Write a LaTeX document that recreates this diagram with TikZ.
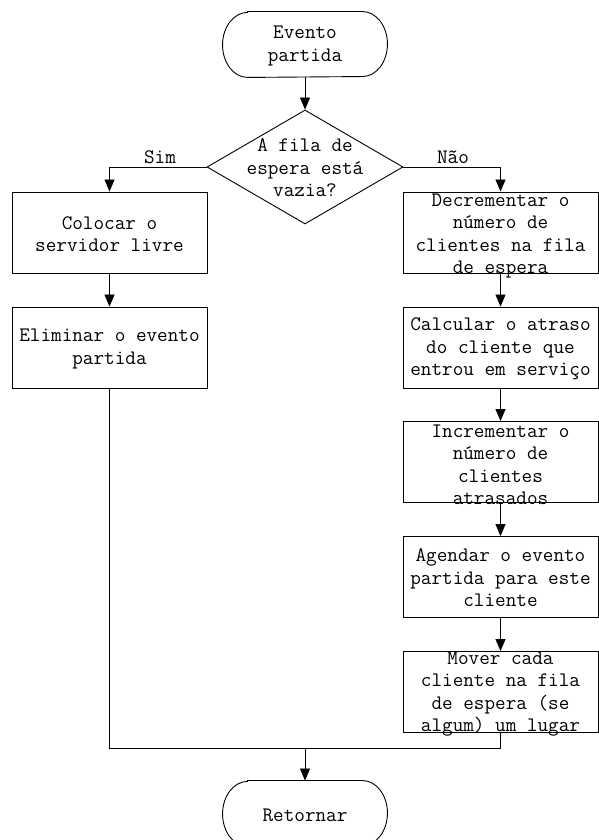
\documentclass[tikz,border=0pt]{standalone}
\usepackage{fontspec}
\usetikzlibrary{arrows.meta,shapes.geometric}
\begin{document}
\begin{tikzpicture}[x=1pt,y=1pt,
  line width=0.9pt,
  box/.style={draw, minimum width=195pt, minimum height=81pt, inner sep=0pt},
  txt/.style={font=\ttfamily\fontsize{20.6}{22.5}\selectfont, align=center, inner sep=0pt},
  dec/.style={draw, diamond, minimum width=196pt, minimum height=114pt, inner sep=0pt},
  term/.style={minimum width=164pt, minimum height=65pt, inner sep=0pt},
  arr/.style={-{Triangle[length=12pt,width=10pt]}},
]
\useasboundingbox (0,0) rectangle (599,840);

% start terminator
\node[term] (start) at (305,795.5) {};
\draw ([xshift=25pt]start.north west) -- ([xshift=-25pt]start.north east)
  arc[start angle=90,end angle=-90,x radius=25pt,y radius=32.5pt]
  -- ([xshift=25pt]start.south west)
  arc[start angle=270,end angle=90,x radius=25pt,y radius=32.5pt] -- cycle;
\node[txt] (tstart) at (305,794) {Evento\\partida};

% decision
\node[dec] (dec) at (305,673) {};
\node[txt] (tdec) at (305,672) {A fila de\\espera está\\vazia?};

% left boxes
\node[box] (L1) at (109.5,607.5) {};
\node[txt] (tL1) at (109.5,606) {Colocar o\\servidor livre};
\node[box] (L2) at (109.5,492.5) {};
\node[txt] (tL2) at (109.5,491) {Eliminar o evento\\partida};

% right boxes
\node[box] (R1) at (500.5,607.5) {};
\node[txt] (tR1) at (500.5,604) {Decrementar o\\número de\\clientes na fila\\de espera};
\node[box] (R2) at (500.5,492.5) {};
\node[txt] (tR2) at (500.5,491) {Calcular o atraso\\do cliente que\\entrou em serviço};
\node[box] (R3) at (500.5,378) {};
\node[txt] (tR3) at (500.5,375) {Incrementar o\\número de\\clientes\\atrasados};
\node[box] (R4) at (500.5,263) {};
\node[txt] (tR4) at (500.5,262) {Agendar o evento\\partida para este\\cliente};
\node[box] (R5) at (500.5,148) {};
\node[txt] (tR5) at (500.5,146) {Mover cada\\cliente na fila\\de espera (se\\algum) um lugar};

% end terminator
\node[term] (ret) at (305,26.5) {};
\draw ([xshift=25pt]ret.north west) -- ([xshift=-25pt]ret.north east)
  arc[start angle=90,end angle=-90,x radius=25pt,y radius=32.5pt]
  -- ([xshift=25pt]ret.south west)
  arc[start angle=270,end angle=90,x radius=25pt,y radius=32.5pt] -- cycle;
\node[txt] (tret) at (305,25) {Retornar};

% labels
\node[txt] (sim) at (160,683) {Sim};
\node[txt] (nao) at (453,683) {Não};

% connectors
\draw[arr] (start.south) -- (dec.north);
\draw[arr] (dec.west) -| (L1.north);
\draw[arr] (dec.east) -| (R1.north);
\draw[arr] (L1.south) -- (L2.north);
\draw[arr] (R1.south) -- (R2.north);
\draw[arr] (R2.south) -- (R3.north);
\draw[arr] (R3.south) -- (R4.north);
\draw[arr] (R4.south) -- (R5.north);
\coordinate (m) at (305,92);
\draw (L2.south) |- (m);
\draw (R5.south) |- (m);
\draw[arr] (m) -- (ret.north);
\end{tikzpicture}
\end{document}
